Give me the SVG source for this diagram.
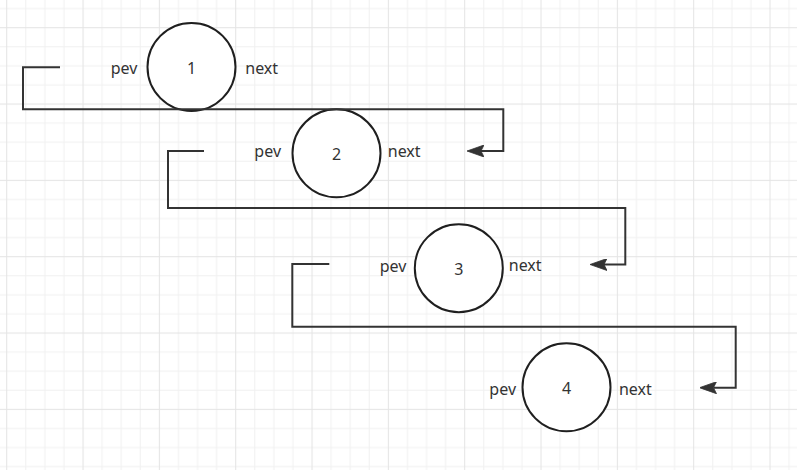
<svg xmlns="http://www.w3.org/2000/svg" width="797" height="470" viewBox="0 0 797 470">
  <style>
    .node { fill: #ffffff; stroke: #1f1f1f; stroke-width: 2; }
    .lbl { font-family: "Noto Sans", "Liberation Sans", sans-serif; font-size: 16px; fill: #333333; text-anchor: middle; }
    .num { font-family: "Noto Sans", "Liberation Sans", sans-serif; font-size: 16px; fill: #333333; text-anchor: middle; }
    .conn { fill: none; stroke: #333333; stroke-width: 2; }
  </style>
  <defs>
    <pattern id="grid" patternUnits="userSpaceOnUse" x="6.2" y="27.2" width="76.33" height="76.33">
      <rect x="0" y="0" width="76.33" height="76.33" fill="#ffffff"/>
      <g fill="#f1f1f1">
        <rect x="19.08" y="0" width="1" height="76.33"/>
        <rect x="38.17" y="0" width="1" height="76.33"/>
        <rect x="57.25" y="0" width="1" height="76.33"/>
        <rect x="0" y="19.08" width="76.33" height="1"/>
        <rect x="0" y="38.17" width="76.33" height="1"/>
        <rect x="0" y="57.25" width="76.33" height="1"/>
      </g>
      <g fill="#e4e4e4">
        <rect x="0" y="0" width="1" height="76.33"/>
        <rect x="0" y="0" width="76.33" height="1"/>
      </g>
    </pattern>
    <marker id="arrow" markerUnits="userSpaceOnUse" markerWidth="17" markerHeight="12" viewBox="0 0 17 12" refX="3" refY="6" orient="auto">
      <path d="M17,6 L0,0 L3,6 L0,12 Z" fill="#333333" stroke="#333333" stroke-width="0.8" stroke-linejoin="miter"/>
    </marker>
  </defs>
  <rect x="0" y="0" width="797" height="470" fill="url(#grid)"/>

  <g id="node1">
    <circle class="node" cx="191.5" cy="67" r="44"/>
    <text class="num" x="191.5" y="73.5">1</text>
    <text class="lbl" x="124" y="73.5">pev</text>
    <text class="lbl" x="261.7" y="73.5">next</text>
  </g>
  <g id="node2">
    <circle class="node" cx="336.5" cy="153.3" r="44"/>
    <text class="num" x="336.5" y="160">2</text>
    <text class="lbl" x="267.7" y="157">pev</text>
    <text class="lbl" x="404.2" y="157">next</text>
  </g>
  <g id="node3">
    <circle class="node" cx="458.8" cy="268.2" r="44"/>
    <text class="num" x="458.8" y="275">3</text>
    <text class="lbl" x="393" y="271.5">pev</text>
    <text class="lbl" x="525.2" y="271">next</text>
  </g>
  <g id="node4">
    <circle class="node" cx="566.5" cy="387.3" r="44"/>
    <text class="num" x="566.5" y="393.5">4</text>
    <text class="lbl" x="502.7" y="395">pev</text>
    <text class="lbl" x="635.3" y="395">next</text>
  </g>

  <g id="connectors">
    <path class="conn" d="M60,67.3 H23 V109.3 H503.3 V151 H481" marker-end="url(#arrow)"/>
    <path class="conn" d="M204,151 H168 V208 H625.3 V264.5 H604" marker-end="url(#arrow)"/>
    <path class="conn" d="M329.3,264 H292.3 V326.7 H735.7 V387.7 H713.5" marker-end="url(#arrow)"/>
  </g>
</svg>
